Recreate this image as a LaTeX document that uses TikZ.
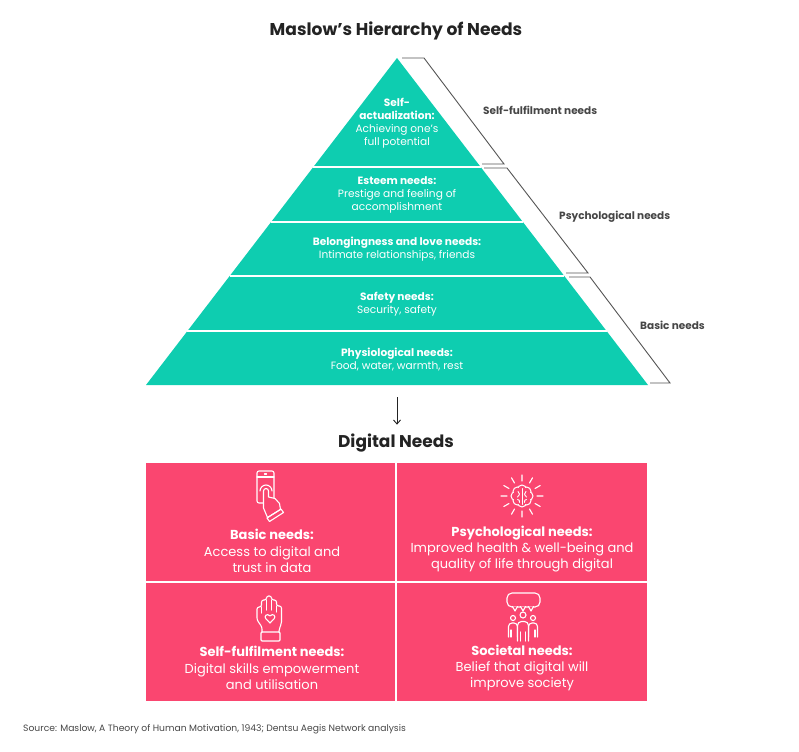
\documentclass[tikz,border=0pt]{standalone}
\usepackage{fontspec}
\setmainfont{Poppins}
\usetikzlibrary{arrows.meta}
\definecolor{pyrteal}{RGB}{14,205,176}
\definecolor{digpink}{RGB}{250,70,112}
\definecolor{brackgray}{RGB}{85,85,85}
\definecolor{labelgray}{RGB}{70,70,70}
\definecolor{titlegray}{RGB}{35,35,35}

\begin{document}
\begin{tikzpicture}[x=1pt,y=-1pt,
    bandtext/.style={text=white,align=center,inner sep=0pt,font=\fontsize{10.6}{13}\selectfont},
    celltext/.style={text=white,align=center,inner sep=0pt,font=\fontsize{13}{16.3}\selectfont},
    sidelabel/.style={anchor=west,inner sep=0pt,text=labelgray,font=\bfseries\fontsize{10.5}{12}\selectfont},
    brack/.style={draw=brackgray,line width=0.9pt},
    divider/.style={draw=white,line width=1.4pt},
    icon/.style={draw=white,line width=1.1pt,line cap=round,line join=round}]
    \useasboundingbox (0,0) rectangle (799,751);

    \node[text=titlegray,font=\bfseries\fontsize{17.1}{20}\selectfont] (title) at (396,31) {Maslow’s Hierarchy of Needs};

    \coordinate (apex) at (397,58);
    \coordinate (bl) at (146,385);
    \coordinate (br) at (648,385);
    \coordinate (l1) at (313.3,167);
    \coordinate (r1) at (480.7,167);
    \coordinate (l2) at (271.1,222);
    \coordinate (r2) at (522.9,222);
    \coordinate (l3) at (229.7,276);
    \coordinate (r3) at (564.3,276);
    \coordinate (l4) at (187.4,331);
    \coordinate (r4) at (606.6,331);

    \fill[pyrteal] (apex) -- (br) -- (bl) -- cycle;
    \draw[divider] (l1) -- (r1);
    \draw[divider] (l2) -- (r2);
    \draw[divider] (l3) -- (r3);
    \draw[divider] (l4) -- (r4);

    \node[bandtext] (selfact) at (397,123.5) {\textbf{Self-}\\\textbf{actualization:}\\Achieving one’s\\full potential};
    \node[bandtext] (esteem) at (397,195) {\textbf{Esteem needs:}\\Prestige and feeling of\\accomplishment};
    \node[bandtext] (belong) at (397,249.5) {\textbf{Belongingness and love needs:}\\Intimate relationships, friends};
    \node[bandtext] (safety) at (397,304.5) {\textbf{Safety needs:}\\Security, safety};
    \node[bandtext] (physio) at (397,359.5) {\textbf{Physiological needs:}\\Food, water, warmth, rest};

    \draw[brack] (402,58) -- (424,58) -- (504,164) -- (482,164);
    \draw[brack] (484,168) -- (507,168) -- (588,273) -- (566,273);
    \draw[brack] (569,277) -- (590,277) -- (670,383) -- (650,383);
    \node[sidelabel] (fulfil) at (483,110) {Self-fulfilment needs};
    \node[sidelabel] (psych) at (559,217) {Psychological needs};
    \node[sidelabel] (basic) at (640,325) {Basic needs};

    \coordinate (arrtop) at (397,397);
    \node[text=titlegray,inner sep=0pt,font=\bfseries\fontsize{17}{19}\selectfont] (dig) at (396,443) {Digital Needs};
    \draw[-{Straight Barb[length=4pt,width=7pt]},line width=0.9pt,draw=titlegray,shorten >=9pt] (arrtop) -- (arrtop |- dig.north);

    \fill[digpink] (146,463) rectangle (647,701);
    \draw[white,line width=1.2pt] (396,463) -- (396,701) (146,582) -- (647,582);

    % phone
    \draw[icon,rounded corners=2pt] (257,471) rectangle (274,503);
    \draw[icon] (257,477) -- (274,477);
    \draw[icon] (264.5,474) -- (266.5,474);
    \draw[icon] (260,491) arc[start angle=180,end angle=360,radius=6];
    \draw[icon,fill=digpink] (263.5,503) -- (263.5,491) arc[start angle=180,end angle=360,radius=2.5] -- (268.5,497) -- (275,498.5) -- (279.5,503.5) -- (280.5,509.5) -- (267.5,517.5) -- (263.5,508) -- cycle;
    \draw[icon] (267,518) -- (281,509) -- (283.5,512.5) -- (269.5,521.5) -- cycle;

    % brain
    \draw[icon,shift={(522,496)}] (0:15) -- (0:21) (30:15) -- (30:21) (60:15) -- (60:21) (90:15) -- (90:21)
        (120:15) -- (120:21) (150:15) -- (150:21) (180:15) -- (180:21) (210:15) -- (210:21)
        (240:15) -- (240:21) (270:15) -- (270:21) (300:15) -- (300:21) (330:15) -- (330:21);
    \fill[digpink,preaction={draw=white,line width=2.3pt}] (528.6,496) circle (3.7) (526.6,500.6) circle (3.7) (522,502.6) circle (3.7)
        (517.4,500.6) circle (3.7) (515.4,496) circle (3.7) (517.4,491.4) circle (3.7) (522,489.4) circle (3.7) (526.6,491.4) circle (3.7)
        (522,496) circle (4.5);
    \draw[icon,line width=0.9pt] (522,488.5) -- (522,504.5);
    \draw[icon,line width=0.9pt] (518,491.5) .. controls (520,494) .. (517.5,497) (526,491.5) .. controls (524,494) .. (526.5,497)
        (517.5,499.5) .. controls (519.5,500) .. (519.5,502.5) (526.5,499.5) .. controls (524.5,500) .. (524.5,502.5);

    % hand with heart
    \draw[icon,rounded corners=2.2pt] (262,632) -- (262,627) -- (257,620) -- (257,607) -- (261.5,607) -- (261.5,600) -- (266.5,600) -- (266.5,596) -- (271.5,596) -- (271.5,600) -- (276.5,600) -- (276.5,606) -- (281.5,606) -- (281.5,624) -- (279,629) -- (279,632);
    \draw[icon] (261.5,607) -- (261.5,613) (266.5,600) -- (266.5,610) (271.5,600) -- (271.5,610) (276.5,606) -- (276.5,612);
    \draw[icon] (270,623) -- (265.8,618.6) .. controls (263.8,616.4) and (266.6,612.8) .. (270,615.8) .. controls (273.4,612.8) and (276.2,616.4) .. (274.2,618.6) -- cycle;
    \draw[icon,rounded corners=1pt] (261,632) rectangle (280,641);

    % bubble and people
    \draw[icon,rounded corners=5pt] (507,593) rectangle (540,607);
    \draw[icon,fill=digpink] (512.5,606.5) -- (515,611) -- (517.5,606.5) (520.5,606.5) -- (523,611) -- (525.5,606.5) (528.5,606.5) -- (531,611) -- (533.5,606.5);
    \draw[icon] (513,618) circle (2.5) (533,618) circle (2.5);
    \draw[icon,rounded corners=3.5pt] (508.5,637) -- (508.5,623) -- (517.5,623) -- (517.5,637) (528.5,637) -- (528.5,623) -- (537.5,623) -- (537.5,637);
    \draw[icon] (511,630) -- (511,637) (535,630) -- (535,637);
    \draw[icon,fill=digpink,rounded corners=4pt] (517.5,641) -- (517.5,621.5) -- (528.5,621.5) -- (528.5,641);
    \draw[icon,fill=digpink] (523,615) circle (3);
    \draw[icon] (520.5,632) -- (520.5,641) (525.5,632) -- (525.5,641);

    \node[celltext] (cbasic) at (272,551) {\textbf{Basic needs:}\\Access to digital and\\trust in data};
    \node[celltext] (cpsych) at (522,549) {\textbf{Psychological needs:}\\Improved health \& well-being and\\quality of life through digital};
    \node[celltext] (cfulfil) at (272,668) {\textbf{Self-fulfilment needs:}\\Digital skills empowerment\\and utilisation};
    \node[celltext] (csocial) at (522,668) {\textbf{Societal needs:}\\Belief that digital will\\improve society};

    \node[anchor=west,inner sep=0pt,text=labelgray,font=\fontsize{9.2}{11}\selectfont] (src) at (23,729) {Source: Maslow, A Theory of Human Motivation, 1943; Dentsu Aegis Network analysis};
\end{tikzpicture}
\end{document}
